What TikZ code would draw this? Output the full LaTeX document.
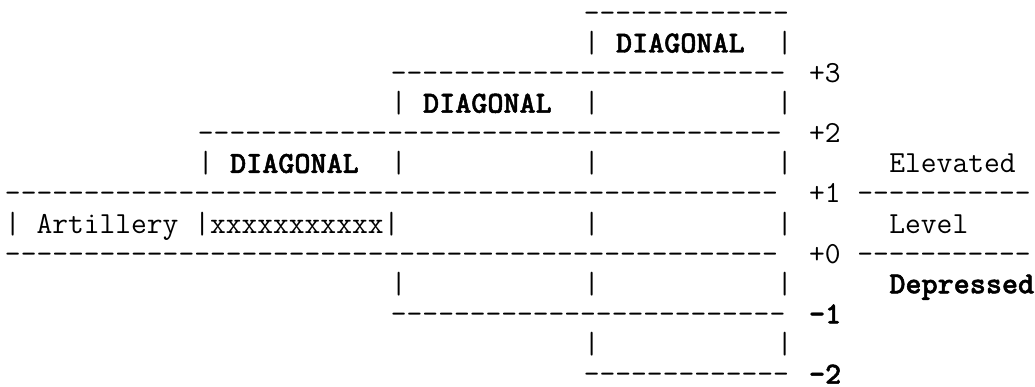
\documentclass[tikz,border=0pt]{standalone}
\usepackage{fontspec}
\newfontfamily\boldtt{lmmonolt10-bold.otf}[FakeBold=1.6]
\tikzset{
  txt/.style={inner sep=0pt,outer sep=0pt,anchor=base west,text=black,
    font=\ttfamily\fontsize{30.63pt}{34pt}\selectfont},
  bld/.style={txt,font=\boldtt\fontsize{30.63pt}{34pt}\selectfont},
  dsh/.style={txt,text height=10pt,text depth=0pt}
}
\begin{document}
\begin{tikzpicture}
\useasboundingbox (0,0) rectangle (1035pt,-387pt);
\begin{scope}[shift={(5pt,-22.4pt)},x=16.08pt,y=-30.1pt]
% line 1
\node[dsh] (r1a) at (36,0) {-------------};
% line 2
\node[txt] (r2a) at (36,1) {|};
\node[bld] (r2b) at (38,1) {DIAGONAL};
\node[txt] (r2c) at (48,1) {|};
% line 3
\node[dsh] (r3a) at (24,2) {-------------------------};
\node[txt] (r3b) at (50,2) {+3};
% line 4
\node[txt] (r4a) at (24,3) {|};
\node[bld] (r4b) at (26,3) {DIAGONAL};
\node[txt] (r4c) at (36,3) {|};
\node[txt] (r4d) at (48,3) {|};
% line 5
\node[dsh] (r5a) at (12,4) {-------------------------------------};
\node[txt] (r5b) at (50,4) {+2};
% line 6
\node[txt] (r6a) at (12,5) {|};
\node[bld] (r6b) at (14,5) {DIAGONAL};
\node[txt] (r6c) at (24,5) {|};
\node[txt] (r6d) at (36,5) {|};
\node[txt] (r6e) at (48,5) {|};
\node[txt] (r6f) at (55,5) {Elevated};
% line 7
\node[dsh] (r7a) at (0,6) {-------------------------------------------------};
\node[txt] (r7b) at (50,6) {+1};
\node[dsh] (r7c) at (53,6) {-----------};
% line 8
\node[txt] (r8a) at (0,7) {| Artillery |xxxxxxxxxxx|};
\node[txt] (r8b) at (36,7) {|};
\node[txt] (r8c) at (48,7) {|};
\node[txt] (r8d) at (55,7) {Level};
% line 9
\node[dsh] (r9a) at (0,8) {-------------------------------------------------};
\node[txt] (r9b) at (50,8) {+0};
\node[dsh] (r9c) at (53,8) {-----------};
% line 10
\node[txt] (r10a) at (24,9) {|};
\node[txt] (r10b) at (36,9) {|};
\node[txt] (r10c) at (48,9) {|};
\node[bld] (r10d) at (55,9) {Depressed};
% line 11
\node[dsh] (r11a) at (24,10) {-------------------------};
\node[bld] (r11b) at (50,10) {-1};
% line 12
\node[txt] (r12a) at (36,11) {|};
\node[txt] (r12b) at (48,11) {|};
% line 13
\node[dsh] (r13a) at (36,12) {-------------};
\node[bld,text depth=0pt] (r13b) at (50,12) {-2};
\end{scope}
\end{tikzpicture}
\end{document}
